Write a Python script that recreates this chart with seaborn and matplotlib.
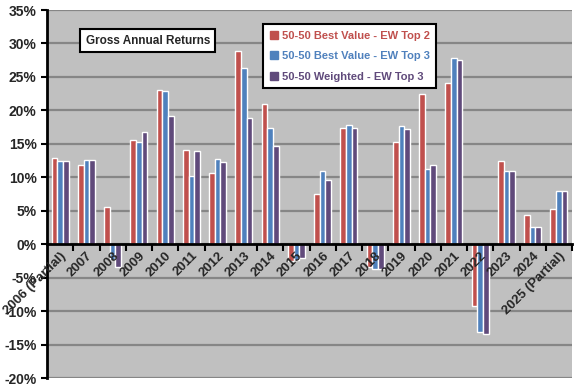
"""
Gross annual returns of three 50-50 strategy combinations, grouped bars per year.
"""

import matplotlib
matplotlib.use('Agg')
import matplotlib.pyplot as plt
from matplotlib.lines import Line2D
from matplotlib.ticker import FuncFormatter, MultipleLocator
import seaborn as sns
import pandas as pd

# Data (percent)
years = ['2006 (Partial)', '2007', '2008', '2009', '2010', '2011', '2012', '2013',
         '2014', '2015', '2016', '2017', '2018', '2019', '2020', '2021', '2022',
         '2023', '2024', '2025 (Partial)']
best_value_top2 = [12.9, 11.8, 5.5, 15.5, 23.0, 14.1, 10.7, 28.9, 21.0, -2.5,
                   7.5, 17.4, -3.4, 15.3, 22.5, 24.1, -9.2, 12.5, 4.3, 5.3]
best_value_top3 = [12.4, 12.6, -2.3, 15.2, 22.9, 10.2, 12.8, 26.4, 17.4, -2.4,
                   11.0, 17.8, -3.7, 17.7, 11.3, 27.9, -13.1, 11.0, 2.6, 8.0]
weighted_top3 = [12.4, 12.6, -3.4, 16.8, 19.2, 14.0, 12.3, 18.8, 14.6, -2.1,
                 9.6, 17.4, -3.7, 17.2, 11.9, 27.6, -13.4, 11.0, 2.6, 8.0]

series_names = ['50-50 Best Value - EW Top 2',
                '50-50 Best Value - EW Top 3',
                '50-50 Weighted - EW Top 3']
colors = ['#C0504D', '#4F81BD', '#604A7B']

df = pd.DataFrame({
    'year': years * 3,
    'ret': best_value_top2 + best_value_top3 + weighted_top3,
    'series': [s for s in series_names for _ in years],
})

sns.set_style('white')
plt.rcParams['font.family'] = ['Liberation Sans', 'DejaVu Sans']
plt.rcParams['font.weight'] = 'bold'

fig = plt.figure(figsize=(5.76, 3.86), dpi=100)
ax = fig.add_axes([47 / 576, 8 / 386, 525 / 576, 368 / 386])
ax.set_facecolor('#C0C0C0')

sns.barplot(data=df, x='year', y='ret', hue='series', hue_order=series_names,
            order=years, palette=colors, saturation=1, width=0.65,
            ax=ax, legend=False)

ax.set_ylim(-20, 35)
ax.set_xlim(-0.5, len(years) - 0.5)
ax.yaxis.set_major_locator(MultipleLocator(5))
ax.yaxis.set_major_formatter(FuncFormatter(lambda v, _: f'{v:.0f}%'))
ax.yaxis.grid(True, color='#868686', linewidth=1.6)
ax.xaxis.grid(False)
ax.set_axisbelow(True)
# year labels are drawn over the bars, as in the original
ax.xaxis.set_zorder(3)
ax.set_xlabel('')
ax.set_ylabel('')

# axis styling: x axis sits on the zero line
for side in ['top', 'right']:
    ax.spines[side].set_visible(False)
ax.spines['left'].set_color('black')
ax.spines['left'].set_linewidth(2)
ax.spines['bottom'].set_position(('data', 0))
ax.spines['bottom'].set_color('black')
ax.spines['bottom'].set_linewidth(2)

ax.tick_params(axis='y', direction='out', length=4, width=1.5, color='black',
               labelsize=10, left=True)
ax.set_xticks(range(len(years)))
ax.set_xticks([i + 0.5 for i in range(len(years))], minor=True)
ax.tick_params(axis='x', which='major', length=0, labelsize=9.5, pad=4)
ax.tick_params(axis='x', which='minor', direction='out', length=5, width=1.5,
               color='black', bottom=True)
for lbl in ax.get_xticklabels():
    lbl.set_rotation(45)
    lbl.set_ha('right')
    lbl.set_rotation_mode('anchor')
    lbl.set_fontweight('bold')
for lbl in ax.get_yticklabels():
    lbl.set_fontweight('bold')

# title box
ax.text(0.192, 0.917, 'Gross Annual Returns', transform=ax.transAxes,
        ha='center', va='center', fontsize=8.5, fontweight='bold',
        bbox=dict(boxstyle='square,pad=0.45', fc='white', ec='black', lw=1.5))

# legend
handles = [Line2D([0], [0], marker='s', linestyle='none', color=c,
                  markerfacecolor=c, markeredgecolor=c, markersize=5.5)
           for c in colors]
leg = ax.legend(handles, series_names, loc='upper left',
                bbox_to_anchor=(0.411, 0.962), borderaxespad=0,
                frameon=True, fancybox=False, framealpha=1, edgecolor='black',
                labelcolor='linecolor', prop={'size': 8, 'weight': 'bold'},
                handlelength=0.8, handletextpad=0.3, labelspacing=0.95,
                borderpad=0.6)
leg.get_frame().set_linewidth(1.5)

fig.savefig('out.png', dpi=100)
